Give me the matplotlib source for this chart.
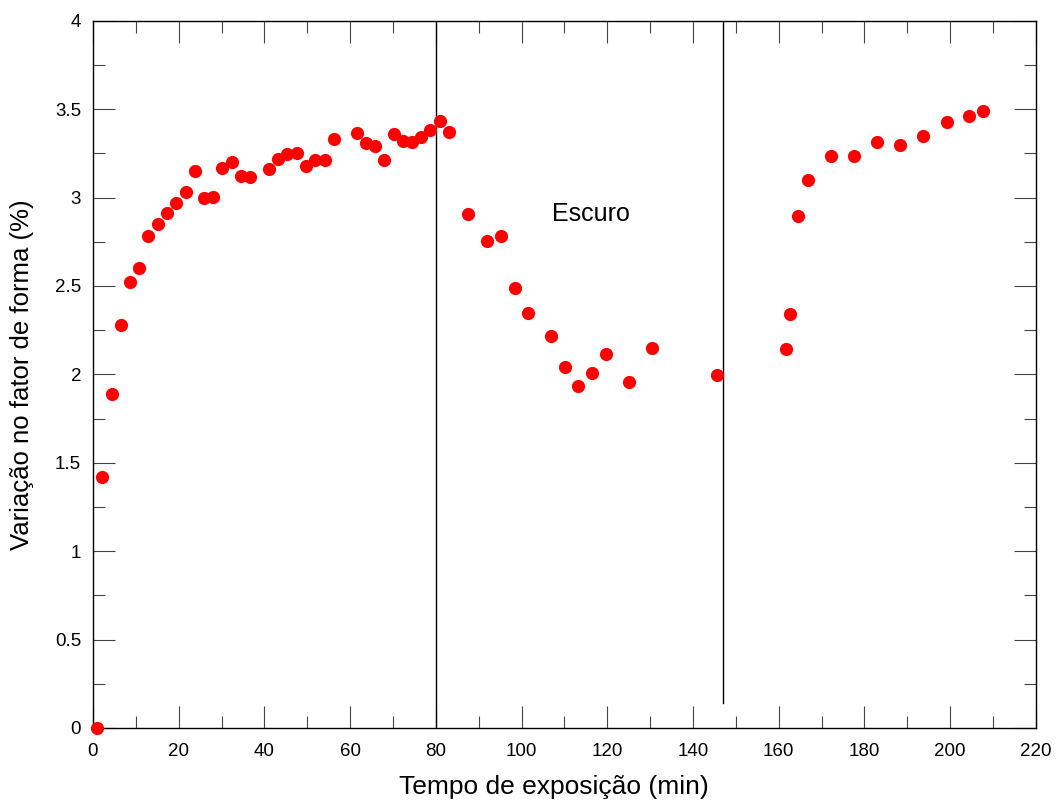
#!/usr/bin/env python3
"""Variação no fator de forma vs tempo de exposição (claro / escuro / claro)."""

import matplotlib
matplotlib.use("Agg")
import matplotlib.pyplot as plt
from matplotlib.ticker import MultipleLocator, FormatStrFormatter

# tempo de exposição (min)
tempo = [1.0, 2.1, 4.4, 6.5, 8.6, 10.8, 12.9, 15.1, 17.3, 19.4, 21.6, 23.8,
         25.8, 28.0, 30.2, 32.4, 34.5, 36.7, 41.0, 43.2, 45.3, 47.5, 49.7,
         51.9, 54.1, 56.2, 61.5, 63.7, 65.9, 68.0, 70.2, 72.3, 74.4, 76.5,
         78.7, 80.9, 83.1,
         87.6, 91.9, 95.1, 98.4, 101.6, 106.9, 110.1, 113.2, 116.4, 119.7,
         125.1, 130.4, 145.5,
         161.6, 162.7, 164.6, 166.8, 172.2, 177.6, 183.0, 188.4, 193.7,
         199.2, 204.5, 207.7]
# variação no fator de forma (%)
variacao = [0.0, 1.42, 1.89, 2.28, 2.52, 2.60, 2.78, 2.85, 2.915, 2.97, 3.03,
            3.15, 3.00, 3.006, 3.166, 3.20, 3.12, 3.117, 3.16, 3.22, 3.245,
            3.25, 3.18, 3.21, 3.215, 3.33, 3.365, 3.31, 3.29, 3.215, 3.357,
            3.32, 3.315, 3.34, 3.38, 3.436, 3.37,
            2.908, 2.757, 2.78, 2.49, 2.35, 2.22, 2.044, 1.937, 2.007, 2.118,
            1.956, 2.15, 1.997,
            2.146, 2.344, 2.898, 3.102, 3.236, 3.233, 3.313, 3.298, 3.348,
            3.425, 3.464, 3.487]

inicio_escuro = 80
fim_escuro = 147

plt.rcParams["font.family"] = ["Liberation Sans", "DejaVu Sans"]

fig = plt.figure(figsize=(10.56, 8), dpi=100)
ax = fig.add_axes([0.088, 0.09, 0.893, 0.884])

ax.plot(tempo, variacao, "o", color="#ff0000", markersize=9.5,
        markeredgewidth=0, clip_on=False, zorder=3)

ax.axvline(inicio_escuro, color="black", linewidth=1)
ax.axvline(fim_escuro, ymin=0.035, ymax=1, color="black", linewidth=1)
ax.text(116.3, 2.905, "Escuro", fontsize=18, ha="center", va="center")

ax.set_xlim(0, 220)
ax.set_ylim(0, 4)
ax.xaxis.set_major_locator(MultipleLocator(20))
ax.xaxis.set_minor_locator(MultipleLocator(10))
ax.yaxis.set_major_locator(MultipleLocator(0.5))
ax.yaxis.set_minor_locator(MultipleLocator(0.25))
ax.yaxis.set_major_formatter(FormatStrFormatter("%g"))

ax.tick_params(which="both", direction="in", top=True, right=True,
               labelsize=13.5, width=0.8, color="#444444")
ax.tick_params(which="major", length=16)
ax.tick_params(which="minor", length=8.5)
ax.tick_params(axis="x", which="major", pad=10.5)
ax.tick_params(axis="y", which="major", pad=8.5)
for s in ax.spines.values():
    s.set_linewidth(1)

ax.set_xlabel("Tempo de exposição (min)", fontsize=19, labelpad=11, x=0.489)
ax.set_ylabel("Variação no fator de forma (%)", fontsize=18.5, labelpad=15)

fig.savefig("out.png", dpi=100)
plt.close(fig)
